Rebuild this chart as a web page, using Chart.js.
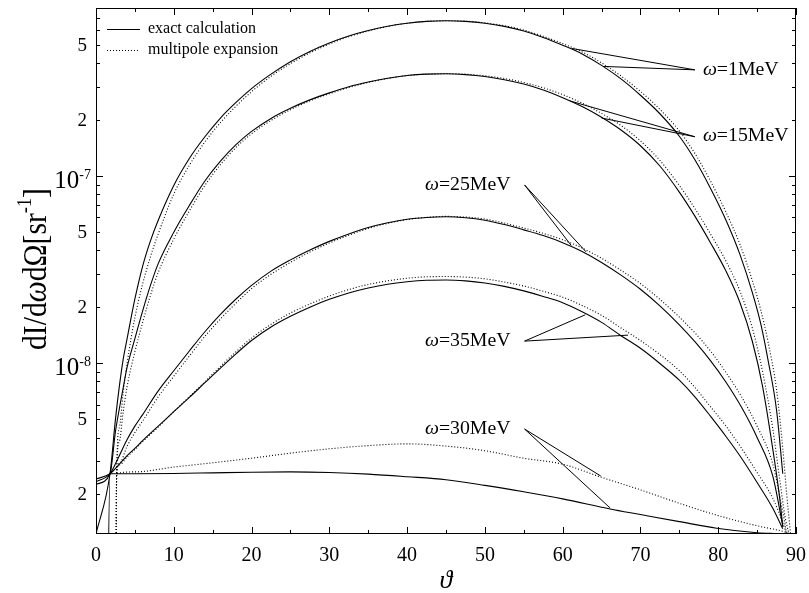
<!DOCTYPE html>
<html>
<head>
<meta charset="utf-8">
<script src="https://cdn.jsdelivr.net/npm/chart.js@4.4.0/dist/chart.umd.min.js"></script>
<style>
  html, body { margin: 0; padding: 0; background: #fff; }
</style>
</head>
<body>
<canvas id="c" width="809" height="593"></canvas>
<script>
const SERIF = '"Liberation Serif", "DejaVu Serif", serif';

// angle theta (deg) and dI/dw dOmega (sr^-1)
// omega = 1 MeV
const th1 = [0, 1.8, 2.5, 3, 3.5, 4, 5, 6, 7, 8, 10, 12, 14, 16, 18, 20, 22.5, 25, 27.5, 30, 32.5, 35, 37.5, 40, 42.5, 45, 47.5, 50, 52.5, 55, 57.5, 60, 62.5, 65, 67.5, 70, 72.5, 75, 77, 79, 81, 82.8, 84.4, 85.5, 86.4, 87.5, 88.3];
const exact1 = [1.22e-9, 2.56e-9, 5e-9, 7.5e-9, 1.05e-8, 1.35e-8, 2.2e-8, 3.3e-8, 4.5e-8, 5.8e-8, 8.9e-8, 1.24e-7, 1.62e-7, 2.04e-7, 2.47e-7, 2.93e-7, 3.5e-7, 4.08e-7, 4.63e-7, 5.14e-7, 5.6e-7, 5.99e-7, 6.31e-7, 6.55e-7, 6.7e-7, 6.75e-7, 6.7e-7, 6.55e-7, 6.3e-7, 5.95e-7, 5.5e-7, 5.0e-7, 4.49e-7, 3.9e-7, 3.3e-7, 2.7e-7, 2.15e-7, 1.63e-7, 1.22e-7, 8.6e-8, 5.8e-8, 3.8e-8, 2.37e-8, 1.6e-8, 1.04e-8, 5.6e-9, 2.56e-9];
const th1m = [2.55, 2.65, 3, 3.5, 4, 5, 6, 7, 8, 10, 12, 14, 16, 18, 20, 22.5, 25, 27.5, 30, 32.5, 35, 37.5, 40, 42.5, 45, 47.5, 50, 52.5, 55, 57.5, 60, 62.5, 65, 67.5, 70, 72.5, 75, 77, 79, 81, 82.8, 84.4, 85.5, 86.4, 87.5, 88.3, 88.8, 89.3];
const multi1 = [1e-10, 2.56e-9, 4.5e-9, 7e-9, 1.0e-8, 1.75e-8, 2.65e-8, 3.7e-8, 4.9e-8, 8.0e-8, 1.14e-7, 1.52e-7, 1.93e-7, 2.36e-7, 2.82e-7, 3.41e-7, 3.98e-7, 4.55e-7, 5.07e-7, 5.55e-7, 5.95e-7, 6.3e-7, 6.55e-7, 6.7e-7, 6.75e-7, 6.72e-7, 6.58e-7, 6.35e-7, 6.02e-7, 5.58e-7, 5.1e-7, 4.6e-7, 4.02e-7, 3.42e-7, 2.83e-7, 2.27e-7, 1.74e-7, 1.32e-7, 9.4e-8, 6.4e-8, 4.3e-8, 2.75e-8, 1.9e-8, 1.3e-8, 7.2e-9, 3.5e-9, 2e-9, 1.22e-9];

// omega = 15 MeV
const th15 = [0, 1.8, 2.5, 3, 3.5, 4, 5, 6, 7, 8, 10, 12, 14, 16, 18, 20, 22.5, 25, 27.5, 30, 32.5, 35, 37.5, 40, 42.5, 45, 47.5, 50, 52.5, 55, 57.5, 60, 62.5, 65, 67.5, 70, 72.5, 75, 77, 79, 81, 82.8, 84.4, 85.7, 87, 87.9, 88.3];
const exact15 = [2.25e-9, 2.56e-9, 4.3e-9, 5.7e-9, 7.4e-9, 9.5e-9, 1.35e-8, 1.9e-8, 2.6e-8, 3.4e-8, 5.0e-8, 6.95e-8, 9.4e-8, 1.2e-7, 1.47e-7, 1.73e-7, 2.03e-7, 2.3e-7, 2.55e-7, 2.78e-7, 3.0e-7, 3.18e-7, 3.33e-7, 3.44e-7, 3.5e-7, 3.52e-7, 3.48e-7, 3.4e-7, 3.27e-7, 3.1e-7, 2.88e-7, 2.62e-7, 2.35e-7, 2.06e-7, 1.76e-7, 1.45e-7, 1.13e-7, 8.2e-8, 6.1e-8, 4.4e-8, 3.1e-8, 2.1e-8, 1.3e-8, 7.5e-9, 3.5e-9, 1.9e-9, 1.33e-9];
const th15m = [2.55, 2.65, 3, 3.5, 4, 5, 6, 7, 8, 10, 12, 14, 16, 18, 20, 22.5, 25, 27.5, 30, 32.5, 35, 37.5, 40, 42.5, 45, 47.5, 50, 52.5, 55, 57.5, 60, 62.5, 65, 67.5, 70, 72.5, 75, 77, 79, 81, 82.8, 84.4, 85.7, 87, 87.9, 88.6, 89.1];
const multi15 = [1e-10, 2.56e-9, 3.8e-9, 5.5e-9, 7.5e-9, 1.15e-8, 1.65e-8, 2.3e-8, 3.05e-8, 4.6e-8, 6.5e-8, 8.9e-8, 1.15e-7, 1.42e-7, 1.68e-7, 1.98e-7, 2.26e-7, 2.52e-7, 2.75e-7, 2.97e-7, 3.16e-7, 3.32e-7, 3.44e-7, 3.5e-7, 3.52e-7, 3.5e-7, 3.43e-7, 3.32e-7, 3.16e-7, 2.96e-7, 2.72e-7, 2.45e-7, 2.16e-7, 1.86e-7, 1.54e-7, 1.21e-7, 8.9e-8, 6.7e-8, 4.9e-8, 3.5e-8, 2.42e-8, 1.53e-8, 9.0e-9, 4.5e-9, 2.4e-9, 1.5e-9, 1.22e-9];

// omega = 25 MeV
const th25 = [0, 1.8, 3, 4, 5, 6, 8, 10, 12, 14, 16, 18, 20, 22.5, 25, 27.5, 30, 32.5, 35, 37.5, 40, 42.5, 45, 47.5, 50, 52.5, 55, 57.5, 60, 62.5, 65, 67.5, 70, 72.5, 75, 77, 79, 81, 83, 85, 87, 88.3];
const exact25 = [2.32e-9, 2.56e-9, 3.2e-9, 3.9e-9, 4.6e-9, 5.3e-9, 7.1e-9, 9.1e-9, 1.16e-8, 1.47e-8, 1.82e-8, 2.2e-8, 2.6e-8, 3.1e-8, 3.56e-8, 4.02e-8, 4.47e-8, 4.9e-8, 5.3e-8, 5.62e-8, 5.87e-8, 6.0e-8, 6.05e-8, 5.98e-8, 5.8e-8, 5.5e-8, 5.15e-8, 4.8e-8, 4.4e-8, 3.95e-8, 3.45e-8, 2.95e-8, 2.48e-8, 2.02e-8, 1.6e-8, 1.3e-8, 1.03e-8, 7.9e-9, 5.8e-9, 4.0e-9, 2.5e-9, 1.35e-9];
const th25m = [2.55, 2.65, 3, 4, 5, 6, 8, 10, 12, 14, 16, 18, 20, 22.5, 25, 27.5, 30, 32.5, 35, 37.5, 40, 42.5, 45, 47.5, 50, 52.5, 55, 57.5, 60, 62.5, 65, 67.5, 70, 72.5, 75, 77, 79, 81, 83, 85, 87, 88.3, 88.8];
const multi25 = [1e-10, 2.56e-9, 2.9e-9, 3.6e-9, 4.25e-9, 4.9e-9, 6.6e-9, 8.5e-9, 1.09e-8, 1.39e-8, 1.72e-8, 2.09e-8, 2.5e-8, 2.98e-8, 3.45e-8, 3.92e-8, 4.38e-8, 4.82e-8, 5.24e-8, 5.58e-8, 5.85e-8, 6.01e-8, 6.08e-8, 6.03e-8, 5.88e-8, 5.6e-8, 5.27e-8, 4.93e-8, 4.56e-8, 4.12e-8, 3.63e-8, 3.13e-8, 2.66e-8, 2.19e-8, 1.76e-8, 1.45e-8, 1.16e-8, 8.9e-9, 6.6e-9, 4.6e-9, 2.9e-9, 1.6e-9, 1.22e-9];

// omega = 35 MeV
const th35 = [0, 1.8, 3, 4, 5, 6, 8, 10, 12, 14, 16, 18, 20, 22.5, 25, 27.5, 30, 32.5, 35, 37.5, 40, 42.5, 45, 47.5, 50, 52.5, 55, 57.5, 60, 62.5, 65, 67.5, 70, 72.5, 75, 77, 79, 81, 83, 85, 87, 88.3];
const exact35 = [2.4e-9, 2.56e-9, 2.88e-9, 3.2e-9, 3.5e-9, 3.85e-9, 4.6e-9, 5.5e-9, 6.55e-9, 7.85e-9, 9.4e-9, 1.12e-8, 1.32e-8, 1.56e-8, 1.78e-8, 1.99e-8, 2.19e-8, 2.37e-8, 2.52e-8, 2.64e-8, 2.72e-8, 2.77e-8, 2.78e-8, 2.75e-8, 2.68e-8, 2.57e-8, 2.43e-8, 2.27e-8, 2.1e-8, 1.88e-8, 1.65e-8, 1.4e-8, 1.2e-8, 9.95e-9, 8.1e-9, 6.6e-9, 5.2e-9, 4.05e-9, 3.1e-9, 2.3e-9, 1.68e-9, 1.3e-9];
const th35m = [2.55, 2.65, 3, 4, 5, 6, 8, 10, 12, 14, 16, 18, 20, 22.5, 25, 27.5, 30, 32.5, 35, 37.5, 40, 42.5, 45, 47.5, 50, 52.5, 55, 57.5, 60, 62.5, 65, 67.5, 70, 72.5, 75, 77, 79, 81, 83, 85, 87, 88.3, 88.8];
const multi35 = [1e-10, 2.56e-9, 2.85e-9, 3.15e-9, 3.45e-9, 3.8e-9, 4.55e-9, 5.5e-9, 6.6e-9, 7.95e-9, 9.6e-9, 1.15e-8, 1.36e-8, 1.61e-8, 1.85e-8, 2.07e-8, 2.28e-8, 2.47e-8, 2.63e-8, 2.75e-8, 2.84e-8, 2.89e-8, 2.9e-8, 2.88e-8, 2.82e-8, 2.71e-8, 2.58e-8, 2.42e-8, 2.25e-8, 2.03e-8, 1.8e-8, 1.54e-8, 1.32e-8, 1.11e-8, 9.1e-9, 7.4e-9, 5.85e-9, 4.6e-9, 3.5e-9, 2.6e-9, 1.9e-9, 1.4e-9, 1.22e-9];

// omega = 30 MeV
const th30 = [1.35, 1.8, 5, 10, 15, 20, 25, 30, 35, 40, 45, 50, 55, 60, 66.1, 70, 75, 79.8, 85, 88.3, 90];
const exact30 = [1e-10, 2.56e-9, 2.56e-9, 2.57e-9, 2.59e-9, 2.61e-9, 2.62e-9, 2.6e-9, 2.55e-9, 2.47e-9, 2.38e-9, 2.22e-9, 2.05e-9, 1.88e-9, 1.66e-9, 1.55e-9, 1.42e-9, 1.31e-9, 1.24e-9, 1.22e-9, 1.2e-9];
const th30m = [2.55, 2.65, 5, 10, 15, 20, 25, 30, 35, 40, 45, 50, 55, 60, 65, 70, 75, 80, 85, 88, 89.5];
const multi30 = [1e-10, 2.56e-9, 2.62e-9, 2.78e-9, 2.93e-9, 3.1e-9, 3.3e-9, 3.48e-9, 3.62e-9, 3.7e-9, 3.6e-9, 3.4e-9, 3.1e-9, 2.88e-9, 2.45e-9, 2.1e-9, 1.78e-9, 1.53e-9, 1.35e-9, 1.27e-9, 1.22e-9];

// curve labels with their leader lines (theta, value)
const labelNames = ['1MeV', '15MeV', '25MeV', '35MeV', '30MeV'];
const labelSide = ['right', 'right', 'left', 'left', 'left'];
const leaderFrom = [[77.0, 3.69e-7], [77.0, 1.62e-7], [55.1, 8.95e-8], [55.1, 1.31e-8], [55.1, 4.44e-9]];
const leaderTo = [
  [[61.2, 4.8e-7], [65.2, 3.85e-7]],
  [[60.9, 2.52e-7], [65.0, 2.04e-7]],
  [[61.1, 4.25e-8], [63.0, 3.93e-8]],
  [[62.9, 1.81e-8], [68.4, 1.41e-8]],
  [[64.9, 2.49e-9], [66.1, 1.68e-9]]
];

// axis
const xMin = 0, xMax = 90, xStep = 10;
const yMin = 1.22e-9, yMax = 7.9e-7;
const yLabelValues = [2e-9, 5e-9, 1e-8, 2e-8, 5e-8, 1e-7, 2e-7, 5e-7];
const yLabelText = ['2', '5', '10|-8', '2', '5', '10|-7', '2', '5'];

const curves = [
  [th1, exact1, false], [th1m, multi1, true],
  [th15, exact15, false], [th15m, multi15, true],
  [th25, exact25, false], [th25m, multi25, true],
  [th35, exact35, false], [th35m, multi35, true],
  [th30, exact30, false], [th30m, multi30, true]
];

const datasets = curves.map(([t, v, dotted]) => ({
  data: t.map((x, i) => ({x, y: v[i]})),
  borderColor: '#000',
  borderWidth: 1.1,
  borderDash: dotted ? [1, 2] : [],
  pointRadius: 0,
  fill: false,
  cubicInterpolationMode: 'monotone'
}));

leaderFrom.forEach((f, i) => {
  const [a, b] = leaderTo[i];
  datasets.push({
    data: [{x: a[0], y: a[1]}, {x: f[0], y: f[1]}, {x: b[0], y: b[1]}],
    borderColor: '#000', borderWidth: 1, pointRadius: 0, fill: false, tension: 0
  });
});

// text pieces one after another: [text, font, dy]
function runsWidth(ctx, runs) {
  let w = 0;
  runs.forEach(r => { ctx.font = r[1]; w += ctx.measureText(r[0]).width; });
  return w;
}
function drawRuns(ctx, runs, sx) {
  ctx.save();
  ctx.scale(sx, 1);
  let cx = 0;
  runs.forEach(r => {
    ctx.font = r[1];
    ctx.fillText(r[0], cx, r[2] || 0);
    cx += ctx.measureText(r[0]).width;
  });
  ctx.restore();
}

const decor = {
  id: 'decor',
  afterDraw(chart) {
    const {ctx, chartArea: a, scales: {x, y}} = chart;
    const F = 'px ' + SERIF;
    ctx.save();
    ctx.strokeStyle = '#000';
    ctx.fillStyle = '#000';
    ctx.lineWidth = 1;

    // frame
    ctx.strokeRect(a.left + 0.5, a.top + 0.5, a.right - a.left - 1, a.bottom - a.top - 1);

    // inward ticks on all four sides
    ctx.beginPath();
    for (let t = xMin; t <= xMax; t += xStep / 2) {
      const px = Math.round(x.getPixelForValue(t)) + 0.5;
      const len = t % xStep === 0 ? 7 : 4;
      ctx.moveTo(px, a.bottom); ctx.lineTo(px, a.bottom - len);
      ctx.moveTo(px, a.top); ctx.lineTo(px, a.top + len);
    }
    for (let e = -9; e <= -7; e++) {
      for (let m = 1; m <= 9; m++) {
        const v = m * Math.pow(10, e);
        if (v < yMin || v > yMax) continue;
        const py = Math.round(y.getPixelForValue(v)) + 0.5;
        const len = m === 1 ? 7 : 4;
        ctx.moveTo(a.left, py); ctx.lineTo(a.left + len, py);
        ctx.moveTo(a.right, py); ctx.lineTo(a.right - len, py);
      }
    }
    ctx.stroke();

    // y tick labels
    ctx.textAlign = 'right';
    yLabelValues.forEach((v, i) => {
      const py = y.getPixelForValue(v);
      const txt = yLabelText[i];
      if (txt.includes('|')) {
        const [base, ex] = txt.split('|');
        ctx.textBaseline = 'alphabetic';
        ctx.font = '14' + F;
        ctx.fillText(ex, 91, py + 3);
        const ew = ctx.measureText(ex).width;
        ctx.font = '25' + F;
        ctx.fillText(base, 91 - ew, py + 12);
      } else {
        ctx.textBaseline = 'middle';
        ctx.font = '19' + F;
        ctx.fillText(txt, 87, py + 1);
      }
    });

    // x tick labels
    ctx.textAlign = 'center';
    ctx.textBaseline = 'middle';
    ctx.font = '20' + F;
    x.ticks.forEach(t => {
      ctx.fillText(String(t.value), x.getPixelForValue(t.value), 556);
    });

    // axis titles
    ctx.textAlign = 'left';
    ctx.textBaseline = 'alphabetic';
    ctx.save();
    ctx.translate(46, 350);
    ctx.rotate(-Math.PI / 2);
    const yTitle = [['dI/d', '34' + F], ['ω', 'italic 34' + F], ['dΩ[sr', '34' + F], ['-1', '21' + F, -15], [']', '34' + F]];
    drawRuns(ctx, yTitle, 162 / runsWidth(ctx, yTitle));
    ctx.restore();

    ctx.textAlign = 'center';
    ctx.textBaseline = 'middle';
    ctx.font = 'italic 26' + F;
    ctx.fillText('ϑ', (a.left + a.right) / 2, 581);

    // curve labels
    ctx.textAlign = 'left';
    labelNames.forEach((name, i) => {
      const px = x.getPixelForValue(leaderFrom[i][0]);
      const py = y.getPixelForValue(leaderFrom[i][1]);
      const runs = [['ω', 'italic 18' + F], ['=' + name, '18' + F]];
      const sx = 1.1;
      const w = runsWidth(ctx, runs) * sx;
      ctx.save();
      ctx.textBaseline = 'middle';
      ctx.translate(labelSide[i] === 'right' ? px + 8 : px - 14 - w, py);
      drawRuns(ctx, runs, sx);
      ctx.restore();
    });

    // legend
    ctx.beginPath();
    ctx.moveTo(107, 29.5); ctx.lineTo(140, 29.5);
    ctx.stroke();
    ctx.setLineDash([1, 2]);
    ctx.beginPath();
    ctx.moveTo(107, 50.5); ctx.lineTo(140, 50.5);
    ctx.stroke();
    ctx.setLineDash([]);
    ctx.font = '16' + F;
    ctx.textAlign = 'left';
    ctx.textBaseline = 'middle';
    ctx.fillText('exact calculation', 148, 29);
    ctx.fillText('multipole expansion', 148, 50);

    ctx.restore();
  }
};

new Chart(document.getElementById('c'), {
  type: 'line',
  data: {datasets},
  options: {
    responsive: false,
    animation: false,
    events: [],
    layout: {padding: {top: 8, right: 13, bottom: 0, left: 0}},
    plugins: {legend: {display: false}, tooltip: {enabled: false}},
    scales: {
      x: {
        type: 'linear', min: xMin, max: xMax,
        grid: {display: false, drawTicks: false},
        border: {display: false},
        ticks: {stepSize: xStep, display: false},
        afterFit: s => { s.height = 59; s.paddingLeft = 0; s.paddingRight = 0; }
      },
      y: {
        type: 'logarithmic', min: yMin, max: yMax,
        grid: {display: false, drawTicks: false},
        border: {display: false},
        ticks: {display: false},
        afterFit: s => { s.width = 96; s.paddingTop = 0; s.paddingBottom = 0; }
      }
    }
  },
  plugins: [decor]
});
</script>
</body>
</html>
